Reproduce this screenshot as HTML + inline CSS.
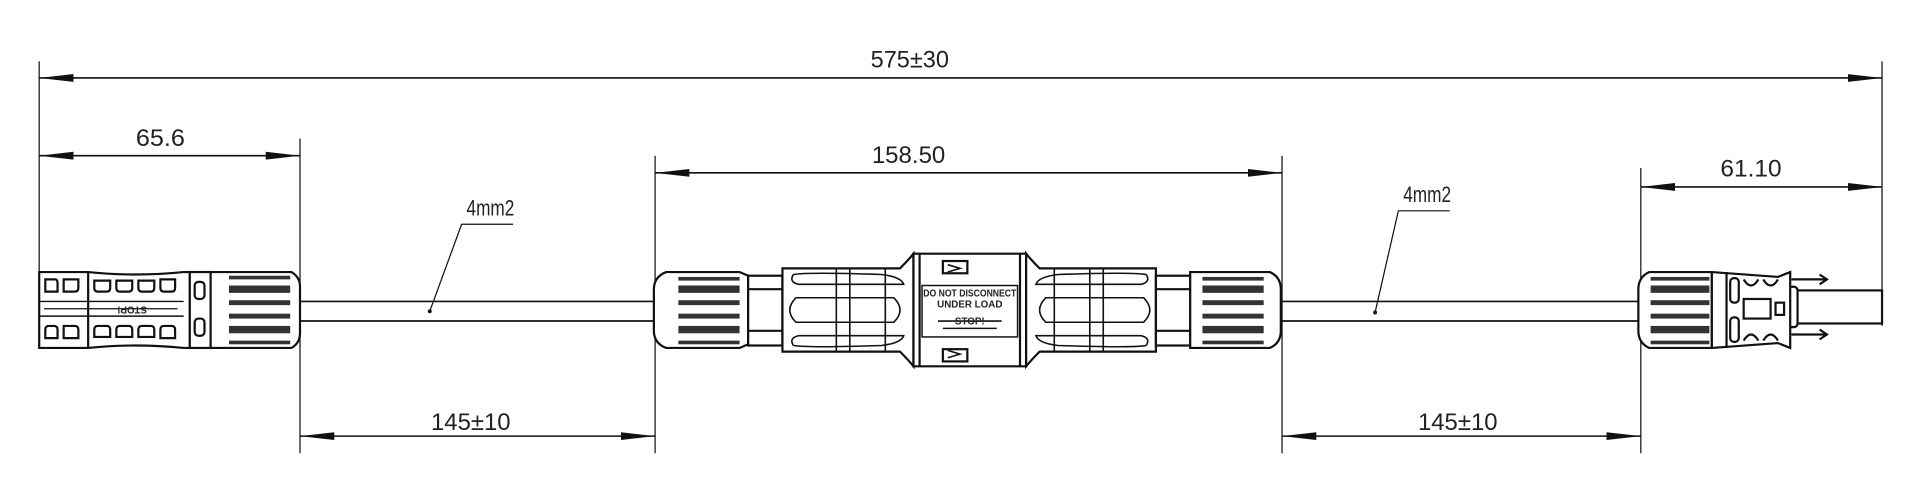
<!DOCTYPE html>
<html><head><meta charset="utf-8"><style>
html,body{margin:0;padding:0;background:#fff}
svg{display:block}
text{font-family:"Liberation Sans Narrow","Liberation Sans",sans-serif;fill:#222}
</style></head><body>
<svg width="1920" height="500" viewBox="0 0 1568 408" xmlns="http://www.w3.org/2000/svg">
<defs>
<marker id="a" viewBox="0 0 28 8" refX="28" refY="4" markerWidth="28" markerHeight="8" markerUnits="userSpaceOnUse" orient="auto-start-reverse"><path d="M0,0.8 L28,4 L0,7.2 Z" fill="#111"/></marker>
</defs>
<g stroke="#111" stroke-width="1" fill="none">
<line x1="32" y1="50" x2="32" y2="284"/>
<line x1="1537" y1="50" x2="1537" y2="266"/>
<line x1="245" y1="113" x2="245" y2="370"/>
<line x1="535" y1="127" x2="535" y2="370"/>
<line x1="1047" y1="127" x2="1047" y2="370"/>
<line x1="1340" y1="137" x2="1340" y2="370"/>
<g stroke-width="1.3" marker-start="url(#a)" marker-end="url(#a)">
<line x1="32" y1="63.5" x2="1537" y2="63.5"/>
<line x1="32" y1="127" x2="245" y2="127"/>
<line x1="535" y1="141" x2="1047" y2="141"/>
<line x1="1340" y1="152.5" x2="1537" y2="152.5"/>
<line x1="245" y1="356" x2="535" y2="356"/>
<line x1="1047" y1="356" x2="1340" y2="356"/>
</g>
<g stroke-width="1.4">
<line x1="245" y1="246" x2="535" y2="246"/><line x1="245" y1="262" x2="535" y2="262"/>
<line x1="1047" y1="246" x2="1340" y2="246"/><line x1="1047" y1="262" x2="1340" y2="262"/>
</g>
<polyline points="351,254 377,183 419,183"/>
<polyline points="1123,255 1142,172 1184,172"/>
</g>
<circle cx="351" cy="254" r="1.6" fill="#111"/>
<circle cx="1123" cy="255" r="1.6" fill="#111"/>
<g font-size="20">
<text x="711" y="55" textLength="64" lengthAdjust="spacingAndGlyphs">575±30</text>
<text x="111" y="119" textLength="40" lengthAdjust="spacingAndGlyphs">65.6</text>
<text x="712" y="133" textLength="60" lengthAdjust="spacingAndGlyphs">158.50</text>
<text x="1405" y="144" textLength="50" lengthAdjust="spacingAndGlyphs">61.10</text>
<text x="352" y="351" textLength="65" lengthAdjust="spacingAndGlyphs">145±10</text>
<text x="1158" y="351" textLength="65" lengthAdjust="spacingAndGlyphs">145±10</text>
<text x="381" y="176" textLength="39" lengthAdjust="spacingAndGlyphs" font-size="18">4mm2</text>
<text x="1146" y="165" textLength="39" lengthAdjust="spacingAndGlyphs" font-size="18">4mm2</text>
</g>

<!-- LEFT CONNECTOR -->
<g stroke="#111" stroke-width="1.8" fill="#fff">
<path d="M32,222 L72,222 Q110,226 150,222 L155,222 L155,284 L150,284 Q110,280 72,284 L32,284 Z"/>
<line x1="72" y1="222" x2="72" y2="284"/>
<line x1="32" y1="246" x2="150" y2="246" stroke-width="1.2"/><line x1="32" y1="258" x2="150" y2="258" stroke-width="1.2"/>
<g fill="none" stroke-width="1.8">
<path d="M37,228 h8 q2,0 2,3 v7 h-10 z"/><path d="M52,228 h12 v7 q0,3 -3,3 h-9 z"/>
<path d="M77,229 h13 v6 q0,3 -3,3 h-7 q-3,0 -3,-3 z"/><path d="M95,229 h13 v6 q0,3 -3,3 h-7 q-3,0 -3,-3 z"/><path d="M113,229 h13 v6 q0,3 -3,3 h-7 q-3,0 -3,-3 z"/><path d="M131,228 h12 v7 q0,3 -3,3 h-6 q-3,0 -3,-3 z"/>
<path d="M37,276 h10 v-7 q0,-3 -3,-3 h-4 q-3,0 -3,3 z"/><path d="M52,276 h12 v-7 q0,-3 -3,-3 h-9 z"/>
<path d="M77,275 h13 v-6 q0,-3 -3,-3 h-7 q-3,0 -3,3 z"/><path d="M95,275 h13 v-6 q0,-3 -3,-3 h-7 q-3,0 -3,3 z"/><path d="M113,275 h13 v-6 q0,-3 -3,-3 h-7 q-3,0 -3,3 z"/><path d="M131,276 h12 v-7 q0,-3 -3,-3 h-6 q-3,0 -3,3 z"/>
</g>
<line x1="36" y1="252" x2="145" y2="252" stroke-width="1"/>
<rect x="155" y="222" width="17" height="62"/>
<rect x="159" y="230" width="8" height="14" rx="3"/><rect x="159" y="260" width="8" height="14" rx="3"/>
<path d="M172,222 L238,222 Q245,226 245,234 L245,272 Q245,280 238,284 L172,284 Z"/>
</g>
<text x="100" y="256" font-size="8" font-weight="bold" transform="rotate(180 110 253)">STOP!</text>
<g fill="#333">
<rect x="187" y="225" width="50" height="3"/><rect x="187" y="233" width="50" height="6"/><rect x="187" y="245" width="50" height="4"/><rect x="187" y="256" width="50" height="4"/><rect x="187" y="266" width="50" height="6"/><rect x="187" y="278" width="50" height="3"/>
</g>

<!-- MIDDLE -->
<g stroke="#111" stroke-width="1.8" fill="#fff">
<path d="M544,222 L604,222 L611,225 L611,281 L604,284 L544,284 Q534,280 534,270 L534,236 Q534,226 544,222 Z"/>
<rect x="611" y="225" width="28" height="57"/>
<line x1="611" y1="236" x2="639" y2="236"/><line x1="611" y1="270" x2="639" y2="270"/>
<path d="M639,219 L735,219 Q742,212 746,207 L746,299 Q742,294 735,287 L639,287 Z"/>
<path d="M746,207 L838,207 L838,299 L746,299 Z"/>
<line x1="751" y1="207" x2="751" y2="299"/><line x1="833" y1="207" x2="833" y2="299"/>
<path d="M838,207 Q842,212 849,219 L944,219 L944,287 L849,287 Q842,294 838,299 Z"/>
<rect x="944" y="225" width="28" height="57"/>
<line x1="944" y1="236" x2="972" y2="236"/><line x1="944" y1="270" x2="972" y2="270"/>
<path d="M972,222 L1037,222 Q1046,226 1046,236 L1046,270 Q1046,280 1037,284 L972,284 Z"/>
<rect x="753" y="233" width="78" height="42" stroke-width="1.2"/>
<rect x="770" y="213" width="20" height="10"/><rect x="770" y="285" width="20" height="10"/>
</g>
<g stroke="#111" stroke-width="1.3" fill="none">
<path d="M648,224 Q660,222 720,224 Q736,226 738,232 L652,232 Q644,230 648,224"/>
<path d="M648,282 Q660,284 720,282 Q736,280 738,274 L652,274 Q644,276 648,282"/>
<path d="M650,243 L730,243 Q740,253 730,263 L650,263 Q640,253 650,243 Z"/>
<line x1="683" y1="219" x2="683" y2="287"/><line x1="694" y1="219" x2="694" y2="287"/><line x1="723" y1="219" x2="723" y2="287"/>
<path d="M936,224 Q924,222 864,224 Q848,226 846,232 L932,232 Q940,230 936,224"/>
<path d="M936,282 Q924,284 864,282 Q848,280 846,274 L932,274 Q940,276 936,282"/>
<path d="M854,243 L934,243 Q944,253 934,263 L854,263 Q844,253 854,243 Z"/>
<line x1="861" y1="219" x2="861" y2="287"/><line x1="890" y1="219" x2="890" y2="287"/><line x1="901" y1="219" x2="901" y2="287"/>
<path d="M774,216 l10,3 l-10,3"/><path d="M774,292 l10,-3 l-10,-3"/>
<line x1="766" y1="262" x2="818" y2="262"/><line x1="770" y1="268" x2="814" y2="268"/>
</g>
<g fill="#333">
<rect x="554" y="226" width="50" height="3"/><rect x="554" y="233" width="50" height="6"/><rect x="554" y="245" width="50" height="4"/><rect x="554" y="256" width="50" height="4"/><rect x="554" y="266" width="50" height="6"/><rect x="554" y="278" width="50" height="3"/>
<rect x="982" y="226" width="50" height="3"/><rect x="982" y="233" width="50" height="6"/><rect x="982" y="245" width="50" height="4"/><rect x="982" y="256" width="50" height="4"/><rect x="982" y="266" width="50" height="6"/><rect x="982" y="278" width="50" height="3"/>
</g>
<g font-size="8" font-weight="bold" text-anchor="middle">
<text x="792" y="242" textLength="76" lengthAdjust="spacingAndGlyphs">DO NOT DISCONNECT</text>
<text x="792" y="251">UNDER LOAD</text>
<text x="792" y="265" font-size="8">STOP!</text>
</g>

<!-- RIGHT CONNECTOR -->
<g stroke="#111" stroke-width="1.8" fill="#fff">
<rect x="1463" y="237" width="74" height="27"/>
<path d="M1463,228 L1492,228 M1486,224 L1492,228 L1486,232"/>
<path d="M1463,273 L1492,273 M1486,269 L1492,273 L1486,277"/>
<rect x="1459" y="234" width="9" height="33" rx="3"/>
<path d="M1347,222 L1398,222 L1398,284 L1347,284 Q1338,280 1338,270 L1338,236 Q1338,226 1347,222 Z"/>
<path d="M1398,222 L1452,226 L1462,222 L1462,284 L1452,280 L1398,284 Z"/>
<line x1="1410" y1="222" x2="1410" y2="284"/>
<rect x="1413" y="227" width="7" height="20" rx="3"/><rect x="1413" y="259" width="7" height="20" rx="3"/>
<rect x="1424" y="244" width="22" height="16"/>
<rect x="1450" y="247" width="7" height="10"/>
<path d="M1424,228 q6,10 12,0 M1440,228 q6,10 12,0 M1424,278 q6,-10 12,0 M1440,278 q6,-10 12,0" fill="none"/>
</g>
<g fill="#333">
<rect x="1348" y="226" width="48" height="3"/><rect x="1348" y="233" width="48" height="6"/><rect x="1348" y="245" width="48" height="4"/><rect x="1348" y="256" width="48" height="4"/><rect x="1348" y="266" width="48" height="6"/><rect x="1348" y="278" width="48" height="3"/>
</g>
</svg>
</body></html>
